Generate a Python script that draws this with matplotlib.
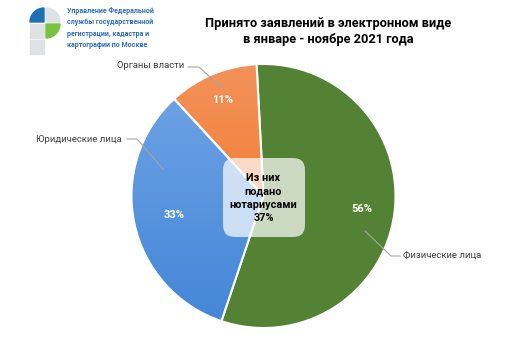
import numpy as np
import matplotlib
matplotlib.use("Agg")
import matplotlib.pyplot as plt
from matplotlib.patches import FancyBboxPatch, Rectangle, Wedge
from matplotlib.colors import LinearSegmentedColormap

plt.rcParams["font.family"] = ["Roboto", "DejaVu Sans"]

W, H = 521, 355

TITLE = "Принято заявлений в электронном виде\nв январе - ноябре 2021 года"
ORG_TEXT = ("Управление Федеральной\nслужбы государственной\n"
            "регистрации, кадастра и\nкартографии по Москве")

categories = ["Физические лица", "Юридические лица", "Органы власти"]
shares = [56, 33, 11]
notary_text = "Из них\nподано\nнотариусами\n37%"

# top / bottom colours for the vertical gradients
slice_colors = [("#548235", "#548235"), ("#72a6e6", "#4385d7"), ("#f39259", "#f06f1f")]

CX, CY, R = 263.5, 196, 132
label_dist = [0.75, 0.69, 0.79]
label_pos = [(403, 256, "left"), (122, 139, "right"), (184, 66, "right")]
leader_pts = [
    [(365, 231), (391, 256), (400, 256)],
    [(163, 169), (137, 139), (127, 139)],
    [(222, 88), (199, 67), (188, 67)],
]


def Y(y):
    return H - y


def main():
    fig = plt.figure(figsize=(W / 100, H / 100), dpi=100)
    ax = fig.add_axes([0, 0, 1, 1])
    ax.set_xlim(0, W)
    ax.set_ylim(0, H)
    ax.set_aspect("equal")
    ax.axis("off")

    wedges, _ = ax.pie(shares, center=(CX, Y(CY)), radius=R, startangle=93,
                       counterclock=False, colors=[c[0] for c in slice_colors],
                       wedgeprops=dict(edgecolor="white", linewidth=1.5))

    # gradient fill clipped to each wedge
    grad = np.linspace(0, 1, 256).reshape(-1, 1)
    for w, (top, bot) in zip(wedges, slice_colors):
        if top == bot:
            continue
        cmap = LinearSegmentedColormap.from_list("g", [top, bot])
        im = ax.imshow(grad, cmap=cmap, aspect="auto", origin="upper",
                       extent=(CX - R, CX + R, Y(CY + R), Y(CY - R)), zorder=1.5)
        im.set_clip_path(w)
        w.set_facecolor("none")
        w.set_zorder(2)
    ax.set_xlim(0, W)
    ax.set_ylim(0, H)

    for w, d, val in zip(wedges, label_dist, shares):
        ang = np.deg2rad((w.theta1 + w.theta2) / 2)
        ax.text(CX + d * R * np.cos(ang), Y(CY) + d * R * np.sin(ang), f"{val}%",
                ha="center", va="center", color="white", fontsize=8,
                fontweight="bold", zorder=5)

    for name, (lx, ly, ha), pts in zip(categories, label_pos, leader_pts):
        ax.text(lx, Y(ly), name, ha=ha, va="center", fontsize=6.8, color="#404040")
        xs, ys = zip(*pts)
        ax.plot(xs, [Y(v) for v in ys], color="#a6a6a6", lw=0.8, zorder=4)

    box = FancyBboxPatch((228, Y(232)), 72, 69, boxstyle="round,pad=5,rounding_size=12",
                         facecolor="white", edgecolor="none", alpha=0.7, zorder=6)
    ax.add_patch(box)
    ax.text(CX, Y(198), notary_text, ha="center", va="center", fontsize=7.8,
            fontweight="bold", color="black", linespacing=1.4, zorder=7)

    ax.text(328, Y(31), TITLE, ha="center", va="center", fontsize=9.2,
            fontweight="bold", color="black", linespacing=1.3)

    # logo
    cell, gap, x0, y0 = 14, 2, 30, 8
    ax.add_patch(Wedge((x0 + cell, Y(y0 + cell)), cell, 90, 180, color="#1f6fb5"))
    ax.add_patch(Wedge((x0 + cell + gap, Y(y0 + cell)), cell, 0, 90, color="#dfe2e5"))
    ax.add_patch(Rectangle((x0, Y(y0 + 2 * cell + gap)), cell, cell, color="#dfe2e5"))
    ax.add_patch(Wedge((x0 + cell + gap, Y(y0 + cell + gap)), cell, 270, 360, color="#7cc242"))
    ax.add_patch(Rectangle((x0, Y(y0 + 3 * cell + 2 * gap)), cell, cell, color="#dfe2e5"))
    ax.text(67, Y(28), ORG_TEXT, ha="left", va="center", fontsize=5,
            fontweight="bold", color="#2f6eba", linespacing=1.55)

    fig.savefig("out.png", dpi=100)
    plt.close(fig)


if __name__ == "__main__":
    main()
